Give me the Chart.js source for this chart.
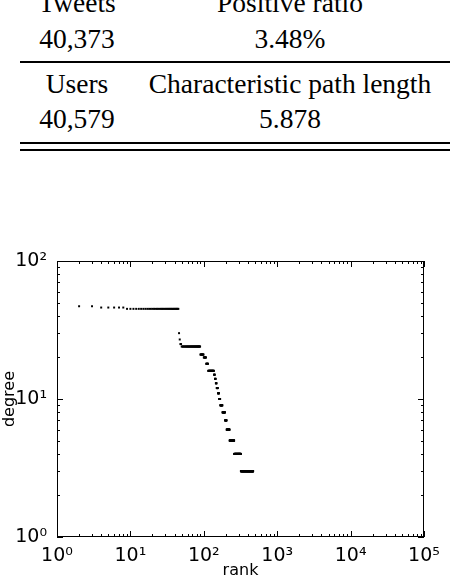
<!DOCTYPE html>
<html>
<head>
<meta charset="utf-8">
<script src="https://cdn.jsdelivr.net/npm/chart.js@4/dist/chart.umd.min.js"></script>
<style>
  body { margin: 0; width: 450px; height: 580px; background: #fff; position: relative; overflow: hidden; }
  .t { position: absolute; font-family: "Liberation Serif", "DejaVu Serif", serif; font-size: 27.5px; color: #000; white-space: nowrap; transform: translateX(-50%); }
  .rule { position: absolute; left: 20px; width: 430px; background: #000; }
  #wrap { position: absolute; left: 0; top: 0; width: 450px; height: 580px; }
</style>
</head>
<body>
<div class="t" style="left:77px; top:-13px">Tweets</div>
<div class="t" style="left:290px; top:-13px">Positive ratio</div>
<div class="t" style="left:77px; top:23px">40,373</div>
<div class="t" style="left:290px; top:23px">3.48%</div>
<div class="rule" style="top:61px; height:2px"></div>
<div class="t" style="left:77px; top:68px">Users</div>
<div class="t" style="left:290px; top:68px">Characteristic path length</div>
<div class="t" style="left:77px; top:103px">40,579</div>
<div class="t" style="left:290px; top:103px">5.878</div>
<div class="rule" style="top:142px; height:2px"></div>
<div class="rule" style="top:149px; height:2px"></div>
<div id="wrap"><canvas id="c"></canvas></div>
<script>
// degree runs: every rank from runStart..runEnd has degree runDegree
const runStart  = [1, 2, 3, 4,  9, 46, 47, 48, 50, 90, 100, 108, 115, 138, 142, 146, 150, 156, 162, 168, 180, 195, 205, 225, 260, 320];
const runEnd    = [1, 2, 3, 8, 45, 46, 47, 49, 89, 99, 107, 114, 137, 141, 145, 149, 155, 161, 167, 179, 194, 204, 224, 259, 319, 470];
const runDegree = [50, 47, 47, 46, 45, 30, 27, 25, 24, 21, 20, 18, 16, 15, 14, 13, 12, 11, 10, 9, 8, 7, 6, 5, 4, 3];
const decadeTicks = [1, 10, 100, 1000, 10000, 100000];
const sup = ['⁰', '¹', '²', '³', '⁴', '⁵'];

const points = [];
runStart.forEach((s, i) => {
    for (let r = s; r <= runEnd[i]; r++) points.push({ x: r, y: runDegree[i] });
});

const label = v => '10' + sup[Math.round(Math.log10(v))];

// matplotlib-like inward ticks on all four sides
const inwardTicks = {
    id: 'inwardTicks',
    afterDraw(chart) {
        const { ctx, chartArea: a, scales: { x, y } } = chart;
        ctx.save();
        ctx.strokeStyle = '#000';
        ctx.lineWidth = 1;
        const tick = (x1, y1, x2, y2) => { ctx.beginPath(); ctx.moveTo(x1, y1); ctx.lineTo(x2, y2); ctx.stroke(); };
        for (let d = 1; d <= 1e5; d *= 10) {
            for (let m = 1; m <= 9; m++) {
                const v = d * m;
                const len = m === 1 ? 6 : 3;
                if (v <= 1e5) {
                    const px = Math.round(x.getPixelForValue(v)) + 0.5;
                    tick(px, a.bottom, px, a.bottom - len);
                    tick(px, a.top, px, a.top + len);
                }
                if (v <= 100) {
                    const py = Math.round(y.getPixelForValue(v)) + 0.5;
                    tick(a.left, py, a.left + len, py);
                    tick(a.right, py, a.right - len, py);
                }
            }
        }
        ctx.strokeRect(a.left + 0.5, a.top + 0.5, a.right - a.left - 1, a.bottom - a.top - 1);
        ctx.restore();
    }
};

const font = { family: 'DejaVu Sans', size: 19 };

new Chart(document.getElementById('c'), {
    type: 'scatter',
    data: {
        datasets: [{
            data: points,
            pointStyle: 'rect',
            pointRadius: 1.4,
            backgroundColor: '#000',
            borderWidth: 0
        }]
    },
    options: {
        responsive: true,
        maintainAspectRatio: false,
        animation: false,
        layout: { padding: { top: 261, right: 26, left: 0, bottom: 0 } },
        plugins: { legend: { display: false }, tooltip: { enabled: false } },
        scales: {
            x: {
                type: 'logarithmic',
                min: 1, max: 1e5,
                afterBuildTicks: s => { s.ticks = decadeTicks.map(v => ({ value: v })); },
                afterFit: s => { s.height = 43; },
                grid: { display: false },
                border: { display: false },
                ticks: { color: '#000', font, padding: 0, maxRotation: 0, callback: v => label(v) },
                title: { display: true, text: 'rank', color: '#000', font: { family: 'DejaVu Sans', size: 16 }, padding: 0 }
            },
            y: {
                type: 'logarithmic',
                min: 1, max: 100,
                afterBuildTicks: s => { s.ticks = [1, 10, 100].map(v => ({ value: v })); },
                afterFit: s => { s.width = 57; },
                grid: { display: false },
                border: { display: false },
                ticks: { color: '#000', font, padding: 2, callback: v => label(v) },
                title: { display: true, text: 'degree', color: '#000', font: { family: 'DejaVu Sans', size: 16 }, padding: 0 }
            }
        }
    },
    plugins: [inwardTicks]
});
</script>
</body>
</html>
